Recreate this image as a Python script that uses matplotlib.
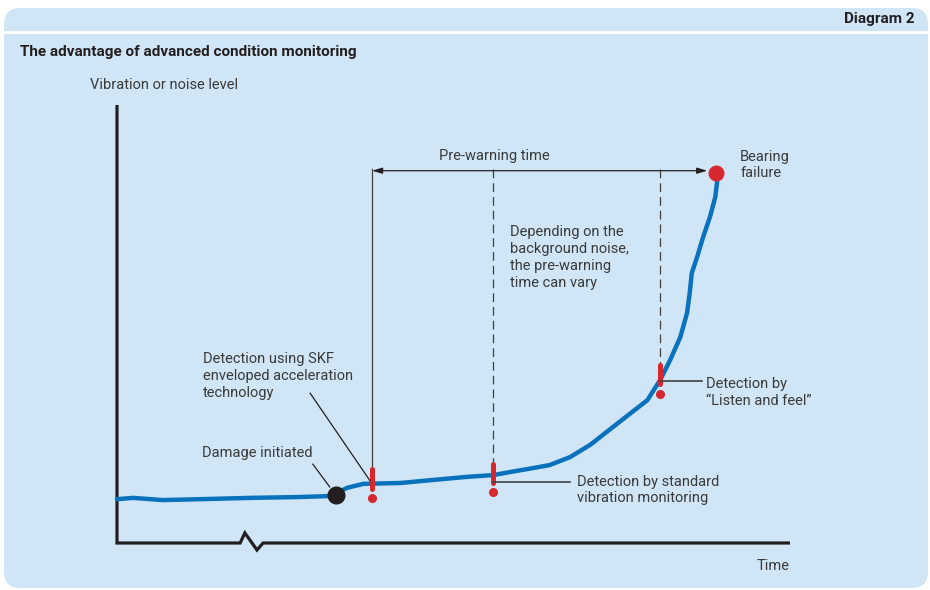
import matplotlib
matplotlib.use("Agg")
import numpy as np
from matplotlib import pyplot as plt
from matplotlib.patches import FancyBboxPatch

# Zustand der Lagerung ueber die Zeit (Zeit 0..100, Pegel 0..100)
time = [0.0, 2.4, 6.8, 12.3, 19.8, 27.2, 31.2, 32.1, 34.2, 36.6, 42.1, 47.0,
        52.0, 55.9, 58.4, 61.8, 64.3, 67.3, 70.3, 73.3, 76.2, 78.8, 80.7, 82.2,
        83.7, 84.7, 85.1, 85.4, 86.2, 87.1, 88.1, 88.9, 89.2, 89.0]
level = [10.0, 10.3, 9.8, 10.0, 10.3, 10.5, 10.7, 11.0, 12.6, 13.5, 13.7, 14.4,
         15.1, 15.5, 16.2, 17.1, 17.8, 19.6, 22.4, 26.0, 29.5, 32.6, 37.2, 41.8,
         47.0, 52.5, 57.1, 61.6, 65.3, 69.9, 74.4, 79.0, 82.9, 84.5]

damage_t, damage_v = 32.5, 11.0
failure_t, failure_v = 89.0, 84.5

# Erkennung: SKF envelope, Standard-Schwingung, "Listen and feel"
detect_t = [37.9, 55.9, 80.7]
detect_v = [14.6, 15.9, 38.4]

warn_v = 85.0  # Hoehe der Pre-warning Linie

ink = "#231f20"
txt = "#3a3a3a"
grey = "#404040"
blue = "#0a72bd"
red = "#d7282f"
panel = "#d0e6f6"

plt.rcParams['font.family'] = ['Roboto', 'DejaVu Sans']

fig = plt.figure(figsize=(9.3, 5.9), dpi=100)
fig.patch.set_facecolor("white")

# Hintergrund (Pixelkoordinaten)
bg = fig.add_axes([0, 0, 1, 1])
bg.set_xlim(0, 930)
bg.set_ylim(590, 0)
bg.axis("off")
bg.add_patch(FancyBboxPatch((4, 8), 924, 580, boxstyle="round,pad=0,rounding_size=16",
                            fc=panel, ec="none"))
bg.plot([4, 928], [32, 32], color="white", lw=2)
bg.text(915, 19, "Diagram 2", ha="right", va="center", fontsize=11,
        fontweight="bold", color=ink)
bg.text(20, 52, "The advantage of advanced condition monitoring", ha="left",
        va="center", fontsize=11, fontweight="bold", color=ink)
bg.text(90, 85, "Vibration or noise level", ha="left", va="center",
        fontsize=10.5, color=txt)
bg.text(757, 566, "Time", ha="left", va="center", fontsize=10.5, color=txt)

ax = fig.add_axes([117 / 930, 47 / 590, 673 / 930, 438 / 590])
ax.set_xlim(0, 100)
ax.set_ylim(0, 100)
ax.axis("off")

# Achsen mit Bruchzeichen
axis_t = [0, 0, 18.3, 19.0, 20.8, 21.7, 100]
axis_v = [100, 0, 0, 2.3, -1.6, 0, 0]
ax.plot(axis_t, axis_v, color=ink, lw=2.3, solid_joinstyle="miter",
        solid_capstyle="butt", clip_on=False)

# Pre-warning Linien
ax.plot([detect_t[0], detect_t[0]], [warn_v + 0.3, detect_v[0] + 2.3], color=grey, lw=0.9)
for t, v in zip(detect_t[1:], detect_v[1:]):
    ax.plot([t, t], [warn_v + 0.3, v + 2.3], color=grey, lw=0.9, dashes=(7, 4))
ax.annotate("", xy=(detect_t[0], warn_v), xytext=(failure_t - 1.3, warn_v),
            arrowprops=dict(arrowstyle="<|-|>,head_length=0.6,head_width=0.18",
                            color=ink, lw=0.9, shrinkA=0, shrinkB=0))
ax.text(56.0, 88.4, "Pre-warning time", ha="center", va="center", fontsize=10.5, color=txt)

# Kurve
ax.plot(time, level, color=blue, lw=3.2, solid_capstyle="round", solid_joinstyle="round",
        clip_on=False)
ax.plot(damage_t, damage_v, "o", color=ink, ms=12, clip_on=False)
ax.plot(failure_t, failure_v, "o", color=red, ms=10.5, clip_on=False)

# Ausrufezeichen
for t, v in zip(detect_t, detect_v):
    ax.plot([t, t], [v - 2.2, v + 2.2], color=red, lw=3.6, solid_capstyle="round")
    ax.plot(t, v - 4.3, "o", color=red, ms=5.5)

# Beschriftungen
ax.text(92.6, 89.7, "Bearing\nfailure", ha="left", va="top", fontsize=10.5,
        color=txt, linespacing=1.17)
ax.text(58.4, 72.6, "Depending on the\nbackground noise,\nthe pre-warning\ntime can vary",
        ha="left", va="top", fontsize=10.5, color=txt, linespacing=1.28)
ax.text(12.8, 43.7, "Detection using SKF\nenveloped acceleration\ntechnology", ha="left",
        va="top", fontsize=10.5, color=txt, linespacing=1.3)
ax.plot([28.7, 37.6], [34.2, 14.2], color=ink, lw=0.9)
ax.text(12.6, 20.5, "Damage initiated", ha="left", va="center", fontsize=10.5, color=txt)
ax.plot([29.1, 31.6], [18.0, 12.8], color=ink, lw=0.9)
ax.text(68.4, 15.5, "Detection by standard\nvibration monitoring", ha="left", va="top",
        fontsize=10.5, color=txt, linespacing=1.17)
ax.plot([detect_t[1], 67.3], [13.9, 13.9], color=grey, lw=1.2)
ax.text(87.5, 37.9, "Detection by\n\u201cListen and feel\u201d", ha="left", va="top",
        fontsize=10.5, color=txt, linespacing=1.3)
ax.plot([detect_t[2], 86.9], [37.0, 37.0], color=grey, lw=1.2)

fig.savefig("out.png", dpi=100, facecolor=fig.get_facecolor())
